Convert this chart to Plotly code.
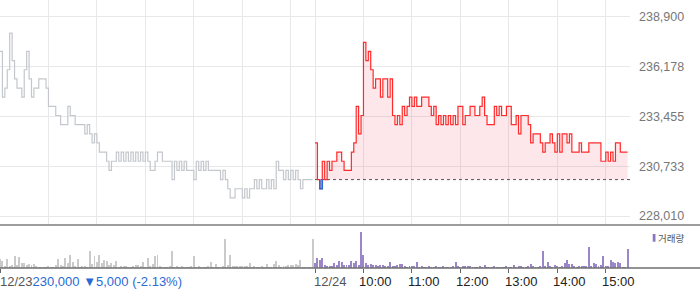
import plotly.graph_objects as go

# ---------------- data ----------------
PREV_CLOSE_DAY0 = 235000          # reference close before 12/23
STEP_MIN = 3                      # minutes between samples
DAY_MIN = 390                     # 09:00 - 15:30
date_labels = ["12/23", "12/24"]
hour_labels = ["10:00", "11:00", "12:00", "13:00", "14:00", "15:00"]
y_ticks = [228010, 230733, 233455, 236178, 238900]

day1_price = [
    237000, 234500, 235000, 236000, 238000, 236500, 235500, 235000, 235000, 234500,
    236000, 237000, 235500, 234500, 235000, 235000, 235500, 235500, 235500, 235000,
    234000, 234000, 234000, 233500, 233500, 233000, 233000, 233000, 234000, 233500,
    233500, 233000, 233000, 233000, 233000, 232500, 233000, 232500, 232000, 232500,
    232000, 231500, 231500, 231500, 231000, 230500, 231000, 231000, 231500, 231000,
    231500, 231000, 231500, 231000, 231500, 231000, 231500, 231000, 231500, 231000,
    231500, 231000, 230500, 230500, 231000, 231500, 231500, 231000, 231000, 231000,
    231000, 230000, 231000, 230500, 231000, 230500, 231000, 230500, 230500, 230500,
    230000, 231000, 230500, 231000, 230500, 231000, 230500, 230500, 230500, 230500,
    230500, 230000, 230500, 230000, 229500, 229000, 229000, 229500, 229500, 229500,
    229000, 229500, 229000, 229500, 229500, 230000, 229500, 230000, 229500, 229500,
    230000, 229500, 230000, 229500, 231000, 230500, 230500, 230000, 230500, 230000,
    230500, 230000, 230500, 230000, 229500, 230000, 230000, 230000, 230000, 230000,
]
day2_price = [
    232000, 230000, 229500, 231000, 230000, 231000, 230500, 231000, 231000, 231500,
    231500, 231000, 230500, 230500, 230500, 231500, 232000, 234000, 232500, 233500,
    237500, 236500, 237000, 236000, 235000, 235500, 235500, 234500, 235500, 235500,
    234500, 235500, 233500, 233000, 233500, 233000, 234000, 233500, 234000, 234500,
    234000, 234500, 234000, 234000, 234500, 234500, 234500, 234000, 233500, 234000,
    233000, 233500, 233000, 233500, 233000, 233500, 233000, 233500, 233000, 234000,
    234000, 233000, 233500, 233500, 234000, 234000, 233500, 233500, 234000, 234500,
    233500, 233000, 233000, 233000, 234000, 233500, 234000, 233500, 233500, 234000,
    234000, 233000, 233000, 233500, 232500, 233500, 233500, 233500, 233000, 232000,
    232500, 232500, 232500, 232000, 231500, 232000, 232000, 232500, 232000, 231500,
    232500, 231500, 232500, 232500, 232000, 232500, 231500, 231500, 231500, 232000,
    231500, 231500, 231500, 232000, 232000, 232000, 232000, 232000, 231000, 231000,
    231500, 231000, 231500, 231000, 232000, 232000, 231500, 231500, 231500, 231500,
]
day1_vol = [
    9, 7, 2, 9, 2, 3, 12, 3, 11, 5, 5, 3, 4, 3, 4, 2, 1, 1, 1, 1,
    2, 1, 1, 3, 9, 3, 2, 10, 5, 13, 6, 2, 9, 1, 2, 2, 1, 17, 4, 12,
    6, 13, 5, 8, 7, 3, 5, 3, 7, 1, 2, 2, 2, 1, 1, 2, 3, 3, 2, 6,
    1, 10, 2, 4, 12, 13, 2, 1, 1, 1, 2, 17, 1, 2, 1, 2, 1, 1, 1, 2,
    12, 1, 2, 1, 1, 1, 2, 6, 1, 4, 1, 1, 2, 29, 3, 13, 2, 2, 2, 2,
    2, 2, 2, 5, 1, 2, 1, 1, 2, 1, 4, 1, 1, 4, 7, 3, 1, 2, 2, 3,
    3, 3, 4, 3, 8, 1, 1, 1, 1, 29,
]
day2_vol = [
    5, 10, 8, 10, 3, 2, 2, 2, 5, 3, 7, 6, 3, 3, 3, 7, 5, 7, 3, 36,
    13, 5, 3, 4, 3, 3, 2, 3, 3, 2, 2, 6, 2, 2, 3, 4, 4, 2, 1, 2,
    2, 2, 6, 1, 2, 1, 1, 2, 1, 1, 2, 1, 1, 2, 1, 1, 1, 2, 6, 2,
    1, 2, 2, 2, 2, 1, 1, 1, 2, 1, 3, 1, 1, 1, 2, 1, 1, 1, 1, 2,
    1, 1, 3, 1, 2, 2, 1, 1, 2, 4, 2, 1, 1, 2, 17, 2, 6, 2, 1, 3,
    2, 1, 2, 5, 8, 4, 4, 2, 1, 2, 2, 2, 2, 21, 2, 5, 4, 2, 3, 12,
    2, 2, 8, 6, 5, 6, 5, 1, 1, 19,
]

# ---------------- derived ----------------
x1 = [i * STEP_MIN for i in range(len(day1_price))]
x2 = [DAY_MIN + j * STEP_MIN for j in range(len(day2_price))]
base = day1_price[-1]
X_END = 2 * DAY_MIN

# blue (below previous close) portions of the day-2 step line
bx, by = [], []
for a in range(len(day2_price) - 1):
    p = day2_price[a]
    if p < base:
        bx += [x2[a], x2[a], x2[a + 1], x2[a + 1], None]
        by += [base, p, p, base, None]

GRAY_LINE = "#c4c7cc"
RED = "#ff2b2b"
BLUE = "#2a6ad6"
PURPLE = "#9a86c8"

fig = go.Figure()

fig.add_trace(go.Scatter(x=x1, y=day1_price, mode="lines",
                         line=dict(color=GRAY_LINE, width=1.2, shape="hv"),
                         xaxis="x", yaxis="y", hoverinfo="skip"))
fig.add_trace(go.Scatter(x=[x2[0], X_END], y=[base, base], mode="lines",
                         line=dict(color="#555555", width=1, dash="dot"),
                         xaxis="x", yaxis="y", hoverinfo="skip"))
fig.add_trace(go.Scatter(x=x2, y=[base] * len(x2), mode="lines",
                         line=dict(width=0), xaxis="x", yaxis="y",
                         hoverinfo="skip"))
fig.add_trace(go.Scatter(x=x2, y=day2_price, mode="lines",
                         line=dict(color=RED, width=1.2, shape="hv"),
                         fill="tonexty", fillcolor="rgba(240,70,90,0.13)",
                         xaxis="x", yaxis="y", hoverinfo="skip"))
fig.add_trace(go.Scatter(x=bx, y=by, mode="lines",
                         line=dict(color=BLUE, width=1.6),
                         xaxis="x", yaxis="y", hoverinfo="skip"))

fig.add_trace(go.Bar(x=x1, y=day1_vol, marker=dict(color="#cacaca", line=dict(width=0)),
                     width=1.2, xaxis="x2", yaxis="y2", hoverinfo="skip"))
fig.add_trace(go.Bar(x=x2, y=day2_vol, marker=dict(color=PURPLE, line=dict(width=0)),
                     width=1.2, xaxis="x2", yaxis="y2", hoverinfo="skip"))

PLOT_H = 268.0
grid_x = [h * 60 for h in range(0, 7)] + [DAY_MIN + h * 60 for h in range(0, 7)]
tick_x = [0, DAY_MIN] + [DAY_MIN + 60 * (k + 1) for k in range(len(hour_labels))]

fig.update_layout(
    width=700, height=289,
    margin=dict(l=0, r=70, t=0, b=21),
    paper_bgcolor="white", plot_bgcolor="white",
    showlegend=False, bargap=0,
    font=dict(family="Arial, Liberation Sans, sans-serif"),
    xaxis=dict(domain=[0, 1], range=[0, X_END], anchor="y",
               tickvals=grid_x, showticklabels=False, ticks="",
               showgrid=True, gridcolor="#e8e8e8", gridwidth=1,
               zeroline=False, showline=False),
    yaxis=dict(domain=[43 / PLOT_H, 1], range=[227518, 239812], anchor="x",
               side="right", tickvals=y_ticks,
               ticktext=[f"{v:,}" for v in y_ticks],
               tickfont=dict(size=12.5, color="#777777"),
               ticks="", ticklabelstandoff=8,
               showgrid=True, gridcolor="#e8e8e8", gridwidth=1,
               zeroline=False, showline=False),
    xaxis2=dict(domain=[0, 1], range=[0, X_END], anchor="y2",
                tickvals=tick_x, showticklabels=False,
                ticks="outside", ticklen=4, tickcolor="#666666", tickwidth=1,
                showgrid=False, zeroline=False, showline=False),
    yaxis2=dict(domain=[0, 42 / PLOT_H], range=[0, 42], anchor="x2",
                showticklabels=False, showgrid=False, zeroline=False,
                showline=False, ticks=""),
)

fig.add_shape(type="line", xref="paper", yref="paper", x0=0, x1=700 / 630,
              y0=43 / PLOT_H, y1=43 / PLOT_H, line=dict(color="#7d7d7d", width=1.5))
fig.add_shape(type="line", xref="paper", yref="paper", x0=0, x1=700 / 630,
              y0=0, y1=0, line=dict(color="#6f6f6f", width=1.5))

fig.add_shape(type="rect", xref="paper", yref="paper",
              x0=652.7 / 630, x1=655.5 / 630,
              y0=(PLOT_H - 241.7) / PLOT_H, y1=(PLOT_H - 234) / PLOT_H,
              line=dict(width=0), fillcolor="#8c78c0")
fig.add_annotation(xref="paper", yref="paper", x=656.0 / 630,
                   y=(PLOT_H - 238) / PLOT_H, xanchor="left", yanchor="middle",
                   text="거래량", showarrow=False,
                   font=dict(family="Noto Sans CJK KR", size=9.5, color="#555555"))

chg = base - PREV_CLOSE_DAY0
pct = chg / PREV_CLOSE_DAY0 * 100
arrow = "▼" if chg < 0 else "▲"
lbl_y = (PLOT_H - 281.5) / PLOT_H
fig.add_annotation(xref="x2", yref="paper", x=0, y=lbl_y, xanchor="left",
                   yanchor="middle", showarrow=False, xshift=-2,
                   text=(f"<span style='color:#555555'>{date_labels[0]}</span>"
                         f"<span style='color:{BLUE}'>{base:,} {arrow}{abs(chg):,} ({pct:.2f}%)</span>"),
                   font=dict(size=13))
fig.add_annotation(xref="x2", yref="paper", x=DAY_MIN, y=lbl_y, xanchor="left",
                   yanchor="middle", showarrow=False, xshift=-3,
                   text=date_labels[1], font=dict(size=13, color="#555555"))
for k, lab in enumerate(hour_labels):
    fig.add_annotation(xref="x2", yref="paper", x=DAY_MIN + 60 * (k + 1), y=lbl_y,
                       xanchor="left", yanchor="middle", showarrow=False, xshift=-6,
                       text=lab, font=dict(size=13, color="#222222"))

fig.write_html("out.html")
